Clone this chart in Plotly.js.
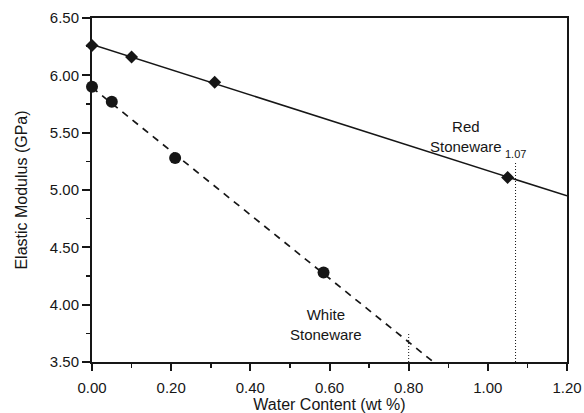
<!DOCTYPE html>
<html><head><meta charset="utf-8">
<script src="https://cdn.plot.ly/plotly-3.0.1.min.js"></script>
<style>html,body{margin:0;padding:0;background:#fff}#chart{width:584px;height:413px}</style>
</head><body><div id="chart"></div>
<script>
// Red stoneware data
var redX = [0.00, 0.10, 0.31, 1.05];
var redY = [6.26, 6.16, 5.94, 5.11];
// White stoneware data
var whiteX = [0.00, 0.05, 0.21, 0.585];
var whiteY = [5.90, 5.77, 5.28, 4.28];
// Reference (dotted) markers at critical water content
var refX = [0.80, 1.07];
var refTop = [3.75, 5.24];
var refLabels = ['', '1.07'];
var xTicks = [0, 0.2, 0.4, 0.6, 0.8, 1.0, 1.2];
var yTicks = [3.5, 4.0, 4.5, 5.0, 5.5, 6.0, 6.5];

function fit(xs, ys) {
  var n = xs.length, mx = 0, my = 0;
  for (var i = 0; i < n; i++) { mx += xs[i]; my += ys[i]; }
  mx /= n; my /= n;
  var sxy = 0, sxx = 0;
  for (var j = 0; j < n; j++) { sxy += (xs[j]-mx)*(ys[j]-my); sxx += (xs[j]-mx)*(xs[j]-mx); }
  var b = sxy / sxx;
  return {a: my - b*mx, b: b};
}
var xr = [0, 1.2];
var fr = fit(redX, redY), fw = fit(whiteX, whiteY);
var ink = '#161616';

var traces = [
  {x: xr, y: xr.map(function(v){return fr.a + fr.b*v;}), mode: 'lines',
   line: {color: ink, width: 1.5}, hoverinfo: 'skip'},
  {x: xr, y: xr.map(function(v){return fw.a + fw.b*v;}), mode: 'lines',
   line: {color: ink, width: 1.7, dash: '7px,6px'}, hoverinfo: 'skip'},
  {x: redX, y: redY, mode: 'markers', cliponaxis: false,
   marker: {symbol: 'diamond', size: 10, color: ink}},
  {x: whiteX, y: whiteY, mode: 'markers', cliponaxis: false,
   marker: {symbol: 'circle', size: 12, color: ink}}
];
refX.forEach(function(v, i){
  traces.push({x: [v, v], y: [3.5, refTop[i]], mode: 'lines',
    line: {color: ink, width: 1, dash: '1px,2px'}, hoverinfo: 'skip'});
});

var annotations = [
  {x: 0.945, y: 5.47, text: 'Red<br>Stoneware', showarrow: false,
   font: {size: 15, color: ink}, align: 'center'},
  {x: 0.59, y: 3.83, text: 'White<br>Stoneware', showarrow: false,
   font: {size: 15, color: ink}, align: 'center'}
];
refX.forEach(function(v, i){
  if (refLabels[i]) annotations.push({x: v, y: refTop[i], yanchor: 'bottom', text: refLabels[i],
    showarrow: false, font: {size: 11, color: ink}, yshift: 0});
});

var layout = {
  width: 584, height: 413,
  margin: {l: 92, r: 17, t: 18, b: 51},
  paper_bgcolor: '#fff', plot_bgcolor: '#fff',
  showlegend: false,
  font: {family: 'Liberation Sans, Arial, sans-serif', color: ink},
  xaxis: {range: [0, 1.2], tickvals: xTicks, tickformat: '.2f',
    showgrid: false, zeroline: false, showline: true, linecolor: ink, linewidth: 2, mirror: true,
    ticks: 'outside', ticklen: 7, tickwidth: 2, tickcolor: ink, ticklabelstandoff: 4,
    minor: {dtick: 0.1, ticks: 'outside', ticklen: 4, tickwidth: 1.5, tickcolor: ink, showgrid: false},
    tickfont: {size: 15, color: ink},
    title: {text: 'Water Content (wt %)', font: {size: 16, color: ink}, standoff: 2}},
  yaxis: {range: [3.5, 6.5], tickvals: yTicks, tickformat: '.2f',
    showgrid: false, zeroline: false, showline: true, linecolor: ink, linewidth: 2, mirror: true,
    ticks: 'outside', ticklen: 8, tickwidth: 2, tickcolor: ink,
    minor: {dtick: 0.25, ticks: 'outside', ticklen: 4, tickwidth: 1.5, tickcolor: ink, showgrid: false},
    tickfont: {size: 15, color: ink},
    title: {text: 'Elastic Modulus (GPa)', font: {size: 16, color: ink}, standoff: 18}},
  annotations: annotations
};
Plotly.newPlot('chart', traces, layout, {staticPlot: true, displayModeBar: false});
</script></body></html>
